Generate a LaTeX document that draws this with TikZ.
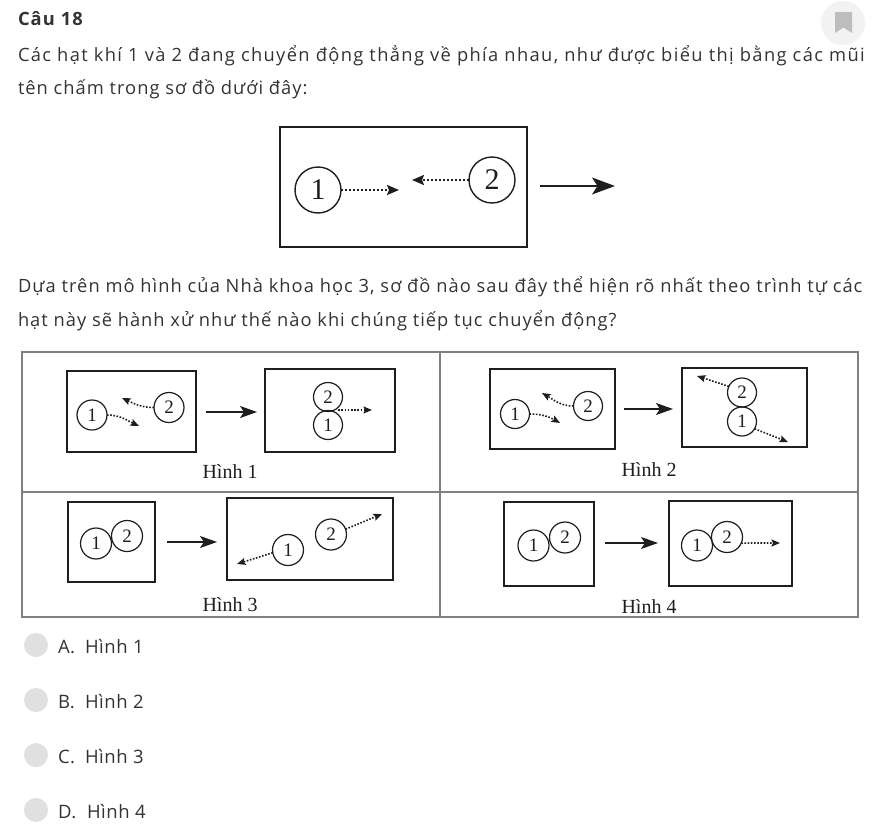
\documentclass[tikz,border=0pt]{standalone}
\usepackage{fontspec}
\setmainfont{Open Sans}
\newfontfamily\serifdg{Liberation Serif}
\usetikzlibrary{arrows.meta}
\definecolor{txt}{HTML}{333333}
\definecolor{ink}{HTML}{1E1E1E}
\definecolor{tbl}{HTML}{808080}
\definecolor{radio}{HTML}{E0E0E0}
\definecolor{bmbg}{HTML}{F2F2F2}
\definecolor{bmfg}{HTML}{BDBDBD}
\begin{document}
\begin{tikzpicture}[x=1pt,y=-1pt,
  every node/.style={inner sep=0pt, outer sep=0pt},
  txtline/.style={anchor=base west, text=txt, font=\fontsize{18.3}{20}\selectfont\addfontfeature{LetterSpace=#1}},
  txtline/.default=5,
  headline/.style={anchor=base west, text=txt, font=\bfseries\fontsize{18.3}{20}\selectfont\addfontfeature{LetterSpace=6}},
  optline/.style={anchor=base west, text=txt, font=\fontsize{18.5}{20}\selectfont\addfontfeature{LetterSpace=3}},
  radiobtn/.style={circle, fill=radio, minimum size=24pt},
  framebox/.style={draw=ink, line width=1.3pt},
  ptc/.style={circle, draw=ink, line width=1.2pt, minimum size=30pt, text=ink, font=\serifdg\fontsize{19}{19}\selectfont},
  ptcbig/.style={circle, draw=ink, line width=1.4pt, minimum size=46pt, text=ink, font=\serifdg\fontsize{30}{30}\selectfont},
  dotarr/.style={draw=ink, line width=1.6pt, dash pattern=on 1.6pt off 1.6pt, -{Stealth[length=8.5pt,width=7pt,inset=1.5pt]}},
  dotarrbig/.style={draw=ink, line width=2pt, dash pattern=on 2pt off 2pt, -{Stealth[length=12pt,width=10pt,inset=2pt]}},
  solidarr/.style={draw=ink, line width=1.2pt, -{Stealth[length=17pt,width=12pt,inset=4pt]}},
  solidarrbig/.style={draw=ink, line width=1.4pt, -{Stealth[length=23pt,width=17pt,inset=5.5pt]}},
  figlabel/.style={text=ink, font=\serifdg\fontsize{20}{20}\selectfont},
  tablest/.style={draw=tbl, line width=1.2pt}
]
\useasboundingbox[fill=white] (0,0) rectangle (889,835);

% header
\node[headline] (title) at (18,25) {Câu 18};
\node[circle, fill=bmbg, minimum size=44pt] (bm) at (843,23) {};
\fill[bmfg] (835,12) -- (852,12) -- (852,33) -- (843.5,27.5) -- (835,33) -- cycle;

\node[txtline=7.4] (l1) at (18,61) {Các hạt khí 1 và 2 đang chuyển động thẳng về phía nhau, như được biểu thị bằng các mũi};
\node[txtline=5.5] (l2) at (18,94) {tên chấm trong sơ đồ dưới đây:};

% top diagram
\node[framebox, minimum width=247pt, minimum height=120pt] (topbox) at (403.5,187) {};
\node[ptcbig] (t1) at (318,190) {1};
\node[ptcbig] (t2) at (492,180) {2};
\coordinate (t1e) at (399,190);
\coordinate (t2e) at (412,180);
\coordinate (tte) at (615,186);
\draw[dotarrbig] (t1.east) -- (t1e);
\draw[dotarrbig] (t2.west) -- (t2e);
\draw[solidarrbig, shorten <=13pt] (topbox.east |- tte) -- (tte);

\node[txtline=5.7] (l3) at (18,292) {Dựa trên mô hình của Nhà khoa học 3, sơ đồ nào sau đây thể hiện rõ nhất theo trình tự các};
\node[txtline=5.5] (l4) at (18,326) {hạt này sẽ hành xử như thế nào khi chúng tiếp tục chuyển động?};

% table
\draw[tablest] (22,352) rectangle (858,617);
\draw[tablest] (440,352) -- (440,617);
\draw[tablest] (22,492) -- (858,492);

% ---- Hinh 1
\node[framebox, minimum width=129pt, minimum height=81pt] (b1l) at (131.5,411.5) {};
\node[framebox, minimum width=130pt, minimum height=83pt] (b1r) at (330,410.5) {};
\node[ptc] (p1a) at (92,415) {1};
\node[ptc] (p1b) at (169,407.5) {2};
\coordinate (c1a) at (139,426);
\coordinate (c1b) at (122,398);
\draw[dotarr] (p1a.east) to[out=0,in=155] (c1a);
\draw[dotarr] (p1b.west) to[out=180,in=-25] (c1b);
\draw[solidarr, shorten <=10pt, shorten >=8pt] (b1l.east |- 0,412) -- (b1r.west |- 0,412);
\node[ptc, minimum size=29pt] (q1b) at (328,397) {2};
\node[ptc, minimum size=29pt] (q1a) at (328,425) {1};
\coordinate (q1e) at (372,410);
\draw[dotarr] (q1b.south east |- q1e) -- (q1e);
\node[figlabel] (h1) at (230,472) {Hình 1};

% ---- Hinh 2
\node[framebox, minimum width=125pt, minimum height=80pt] (b2l) at (552.5,409) {};
\node[framebox, minimum width=125pt, minimum height=79pt] (b2r) at (744.5,407.5) {};
\node[ptc, minimum size=29pt] (p2a) at (515,414) {1};
\node[ptc, minimum size=29pt] (p2b) at (588,406) {2};
\coordinate (c2a) at (560,423);
\coordinate (c2b) at (542,393);
\draw[dotarr] (p2a.east) to[out=0,in=150] (c2a);
\draw[dotarr] (p2b.west) to[out=180,in=-30] (c2b);
\draw[solidarr, shorten <=9pt, shorten >=9pt] (b2l.east |- 0,409) -- (b2r.west |- 0,409);
\node[ptc, minimum size=29pt] (q2b) at (742,392.5) {2};
\node[ptc, minimum size=29pt] (q2a) at (742,421.5) {1};
\coordinate (q2be) at (697,376);
\coordinate (q2ae) at (788,442);
\draw[dotarr] (q2b.155) -- (q2be);
\draw[dotarr] (q2a.-30) -- (q2ae);
\node[figlabel] (h2) at (649,470) {Hình 2};

% ---- Hinh 3
\node[framebox, minimum width=87pt, minimum height=80pt] (b3l) at (111.5,542) {};
\node[framebox, minimum width=166pt, minimum height=82pt] (b3r) at (310,539) {};
\node[ptc, minimum size=31pt] (p3a) at (96,543.5) {1};
\node[ptc, minimum size=31pt] (p3b) at (127,536) {2};
\draw[solidarr, shorten <=12pt, shorten >=10pt] (b3l.east |- 0,542) -- (b3r.west |- 0,542);
\node[ptc, minimum size=31pt] (q3a) at (288,550) {1};
\node[ptc, minimum size=31pt] (q3b) at (331,534.5) {2};
\coordinate (q3ae) at (237,564);
\coordinate (q3be) at (382,514);
\draw[dotarr] (q3a.190) -- (q3ae);
\draw[dotarr] (q3b.20) -- (q3be);
\node[figlabel] (h3) at (230,605) {Hình 3};

% ---- Hinh 4
\node[framebox, minimum width=90pt, minimum height=84pt] (b4l) at (549,544) {};
\node[framebox, minimum width=123pt, minimum height=85pt] (b4r) at (730.5,543.5) {};
\node[ptc, minimum size=31pt] (p4a) at (533.5,545.5) {1};
\node[ptc, minimum size=31pt] (p4b) at (565,537.5) {2};
\draw[solidarr, shorten <=11pt, shorten >=11pt] (b4l.east |- 0,543) -- (b4r.west |- 0,543);
\node[ptc, minimum size=31pt] (q4a) at (697,545.5) {1};
\node[ptc, minimum size=31pt] (q4b) at (727,537) {2};
\coordinate (q4e) at (780,543);
\draw[dotarr] (q4b.-23) -- (q4e);
\node[figlabel] (h4) at (649,607) {Hình 4};

% ---- options
\node[radiobtn] (ra) at (36,645) {};
\node[radiobtn] (rb) at (36,700) {};
\node[radiobtn] (rc) at (36,755) {};
\node[radiobtn] (rd) at (36,810) {};
\node[optline] (oa) at (58,653) {A.};
\node[optline] (ob) at (58,708) {B.};
\node[optline] (oc) at (58,763) {C.};
\node[optline] (od) at (58,818) {D.};
\node[optline] (ta) at (85,653) {Hình 1};
\node[optline] (tb) at (85,708) {Hình 2};
\node[optline] (tc) at (85,763) {Hình 3};
\node[optline] (td) at (87,818) {Hình 4};
\end{tikzpicture}
\end{document}
